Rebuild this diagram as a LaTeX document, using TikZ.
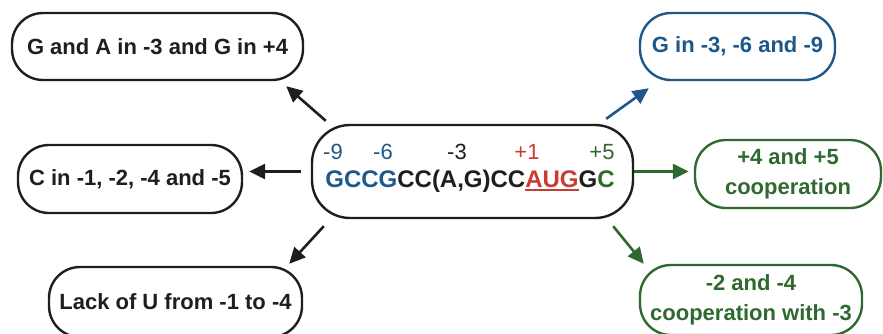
\documentclass[tikz,border=0pt]{standalone}
\usepackage{fontspec}
\setmainfont{Liberation Sans}
\usetikzlibrary{arrows.meta,calc}
\definecolor{cblue}{RGB}{30,88,138}
\definecolor{cgreen}{RGB}{48,105,48}
\definecolor{cred}{RGB}{200,60,52}
\definecolor{cblack}{RGB}{30,30,30}
\newcommand\mybar[1]{\setbox0\hbox{#1}\rlap{\rule[-3.5pt]{\wd0}{1.9pt}}\box0}
\begin{document}
\begin{tikzpicture}[x=1pt,y=-1pt,
  box/.style={draw, line width=2.4pt, rounded corners=31pt, inner sep=0pt, align=center,
    font=\fontsize{22}{30}\selectfont\bfseries},
  num/.style={inner sep=0pt, font=\fontsize{22}{22}\selectfont},
  seq/.style={inner sep=0pt, font=\fontsize{24}{24}\selectfont\bfseries},
  arr/.style={line width=2.6pt, -{Triangle[length=16pt,width=15pt]}}]
\useasboundingbox (0,0) rectangle (883,333);
\clip (0,0) rectangle (883,333);
% boxes
\node[box, cblack, minimum width=291pt, minimum height=67pt] (tl) at (157.5,46.5) {G and A in -3 and G in +4};
\node[box, cblue, minimum width=195pt, minimum height=67pt] (tr) at (737.5,46.5) {G in -3, -6 and -9};
\node[box, cblack, minimum width=224pt, minimum height=68pt] (lm) at (130,179) {C in -1, -2, -4 and -5};
\node[box, cgreen, minimum width=186pt, minimum height=68pt] (rm) at (788,174) {+4 and +5\\cooperation};
\node[box, cblack, minimum width=253pt, minimum height=70pt] (bl) at (175.5,302) {Lack of U from -1 to -4};
\node[box, cgreen, minimum width=222pt, minimum height=70pt] (br) at (751,300) {-2 and -4\\cooperation with -3};
\node[box, cblack, minimum width=321pt, minimum height=93pt, rounded corners=38pt] (c) at (472.5,171.5) {};
% center content
\node[num, cblue] (n9) at (333,152) {-9};
\node[num, cblue] (n6) at (383,152) {-6};
\node[num, cblack] (n3) at (457,152) {-3};
\node[num, cred] (p1) at (527,152) {+1};
\node[num, cgreen] (p5) at (602,152) {+5};
\node[seq, cblack] (s) at (470,181) {\textcolor{cblue}{GCCG}CC(A,G)CC\textcolor{cred}{\mybar{AUG}}G\textcolor{cgreen}{C}};
% arrows
\draw[arr, cblack] ([xshift=15pt,yshift=3pt]c.north west) -- ([xshift=-18pt,yshift=-5pt]tl.south east);
\draw[arr, cblue] ([xshift=-28pt,yshift=5pt]c.north east) -- ([xshift=10pt,yshift=-7pt]tr.south west);
\draw[arr, cblack, shorten <=10pt, shorten >=6pt] (c.west) -- (c.west -| lm.east);
\draw[arr, cgreen, shorten >=5pt] (c.east) -- (c.east -| rm.west);
\draw[arr, cblack] ([xshift=13pt,yshift=-7pt]c.south west) -- ([xshift=-14pt,yshift=2pt]bl.north east);
\draw[arr, cgreen] ([xshift=-21pt,yshift=-7pt]c.south east) -- ([xshift=5pt]br.north west);
\end{tikzpicture}
\end{document}
